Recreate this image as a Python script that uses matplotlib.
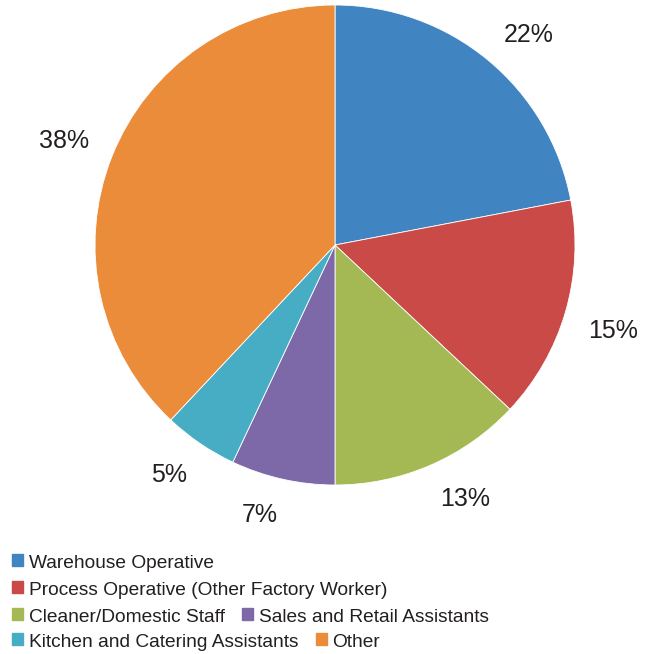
import matplotlib.pyplot as plt
from matplotlib.patches import Rectangle
import numpy as np

plt.rcParams['font.family'] = ['Liberation Sans', 'DejaVu Sans']

categories = ['Warehouse Operative', 'Process Operative (Other Factory Worker)',
              'Cleaner/Domestic Staff', 'Sales and Retail Assistants',
              'Kitchen and Catering Assistants', 'Other']
shares = [22, 15, 13, 7, 5, 38]
colors = ['#4084C2', '#C94A47', '#A4B853', '#7D68A8', '#47ADC4', '#EB8C3A']
legend_rows = [[0], [1], [2, 3], [4, 5]]

W, H = 656, 654
txt_color = '#231F20'

fig = plt.figure(figsize=(W / 100, H / 100), dpi=100)
ax = fig.add_axes([95 / W, 1 - 485 / H, 480 / W, 480 / H])
wedges, _ = ax.pie(shares, colors=colors, startangle=90, counterclock=False,
                   radius=1, wedgeprops=dict(edgecolor='white', linewidth=0.6))
ax.set_xlim(-1, 1)
ax.set_ylim(-1, 1)
ax.set_aspect('equal')
ax.axis('off')

# percentage labels just outside each wedge
for w, v in zip(wedges, shares):
    mid = np.deg2rad((w.theta1 + w.theta2) / 2)
    c, s = np.cos(mid), np.sin(mid)
    ax.text(1.10 * c, 1.10 * s, f'{v}%', fontsize=18, color=txt_color,
            ha='left' if c > 0 else 'right', va='baseline' if s > 0 else 'top',
            clip_on=False)

# legend laid out in rows
renderer = fig.canvas.get_renderer()
baselines = [568, 595, 622, 647]
for row, yb in zip(legend_rows, baselines):
    x = 12
    for i in row:
        fig.patches.append(Rectangle((x / W, 1 - (yb - 2) / H), 11 / W, 12 / H,
                                     transform=fig.transFigure, color=colors[i]))
        t = fig.text((x + 17) / W, 1 - yb / H, categories[i], fontsize=13.8,
                     color=txt_color, va='baseline', ha='left')
        bb = t.get_window_extent(renderer)
        x = bb.x1 + 17

fig.savefig('out.png', dpi=100)
